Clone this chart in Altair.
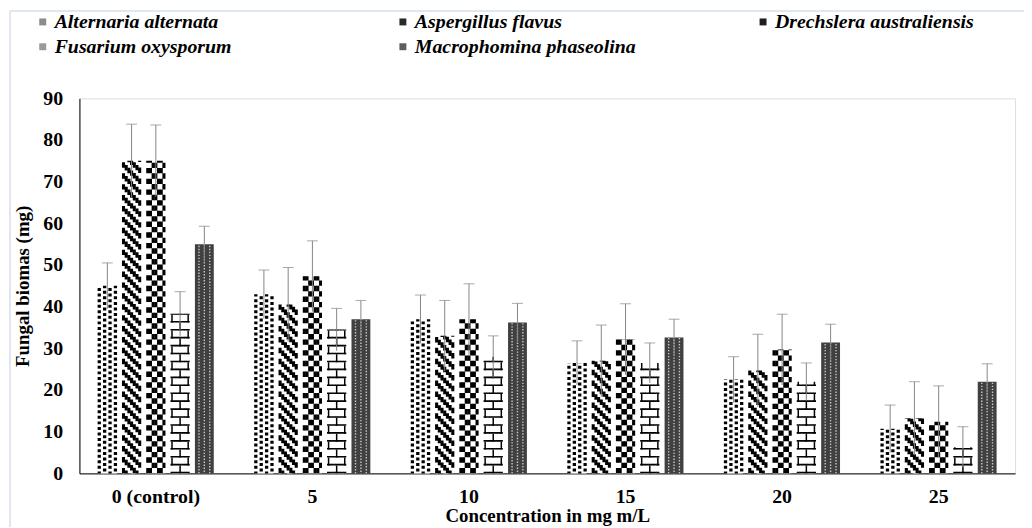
import altair as alt
import pandas as pd

concentrations = ["0 (control)", "5", "10", "15", "20", "25"]
species = ["Alternaria alternata", "Aspergillus flavus", "Drechslera australiensis",
           "Fusarium oxysporum", "Macrophomina phaseolina"]

alternaria = [45.0, 43.0, 37.0, 26.5, 22.5, 10.7]
alternaria_err = [5.5, 5.8, 5.8, 5.3, 5.5, 5.7]
aspergillus = [75.0, 40.5, 33.0, 27.0, 24.7, 13.2]
aspergillus_err = [8.8, 8.9, 8.5, 8.6, 8.7, 8.8]
drechslera = [75.0, 47.3, 37.0, 32.2, 29.7, 12.4]
drechslera_err = [8.6, 8.5, 8.5, 8.5, 8.5, 8.6]
fusarium = [38.3, 34.5, 28.0, 26.5, 22.0, 6.3]
fusarium_err = [5.3, 5.1, 5.0, 4.8, 4.5, 4.9]
macrophomina = [55.0, 37.0, 36.2, 32.6, 31.4, 22.0]
macrophomina_err = [4.3, 4.5, 4.6, 4.4, 4.4, 4.3]

series = [alternaria, aspergillus, drechslera, fusarium, macrophomina]
errors = [alternaria_err, aspergillus_err, drechslera_err, fusarium_err, macrophomina_err]
rows = []
for i, (sp, vals, errs) in enumerate(zip(species, series, errors)):
    for c, v, e in zip(concentrations, vals, errs):
        rows.append({"conc": c, "species": sp, "sidx": i, "value": v,
                     "lo": v - e, "hi": v + e})
df = pd.DataFrame(rows)

FONT = "Liberation Serif"
COLS = 7            # sub-columns per bar
SLOTS = 5 * COLS + 4 * 2   # bars + gaps of 2 sub-columns
PX = 378 / 90.0     # pixels per unit on y
C = 2.7156          # pixel width of one sub-column
BARW = COLS * C
YT = "Fungal biomas (mg)"
XT = "Concentration in mg m/L"

xenc = alt.X("conc:N", sort=concentrations, title=XT,
             scale=alt.Scale(paddingInner=0.26, paddingOuter=0.118))
offenc = alt.XOffset("slot:O", scale=alt.Scale(domain=list(range(SLOTS)),
                                              paddingInner=0, paddingOuter=0))
yscale = alt.Scale(domain=[0, 90], nice=False)

def center_layer():
    return alt.Chart(df).transform_calculate(slot=f"datum.sidx*{COLS + 2}+{COLS // 2}")

# solid background of each bar
bg = center_layer().mark_rule(strokeWidth=BARW, strokeCap="butt").encode(
    x=xenc, xOffset=offenc,
    y=alt.Y("zero:Q", scale=yscale, title=YT), y2="value:Q",
    stroke=alt.Stroke("species:N", scale=alt.Scale(domain=species,
                      range=["#ffffff", "#ffffff", "#ffffff", "#ffffff", "#404040"]),
                      legend=None),
).transform_calculate(zero="0")

def pattern(sp, dash, width, color, col_filter, shift_expr):
    return (alt.Chart(df)
            .transform_filter(alt.datum.species == sp)
            .transform_calculate(cols=f"sequence(0,{COLS})")
            .transform_flatten(["cols"])
            .transform_filter(col_filter)
            .transform_calculate(slot=f"datum.sidx*{COLS + 2}+datum.cols",
                                 start=f"-({shift_expr})/{PX}")
            .mark_rule(strokeDash=dash, strokeWidth=width, color=color,
                       strokeCap="butt", clip=True)
            .encode(x=xenc, xOffset=offenc,
                    y=alt.Y("start:Q", scale=yscale, title=YT), y2="value:Q"))

p_alt = pattern(species[0], [3.0, 2.6], 3.3, "#000000",
                "datum.cols % 2 == 0", "((datum.cols/2) % 2) * 2.8 + 1")
p_asp = pattern(species[1], [5.5, 5.5], C + 0.4, "#000000",
                "true", f"datum.cols * {C}")
p_dre = pattern(species[2], [5.4, 5.4], C + 0.4, "#000000",
                "true", "(floor(datum.cols/2) % 2) * 5.4")
p_fus_h = pattern(species[3], [1.6, 6.4], C + 0.4, "#000000",
                  "true", "0")
p_fus_v = pattern(species[3], [8, 8], 1.5, "#000000",
                  "datum.cols == 0 || datum.cols == 3 || datum.cols == 6",
                  "datum.cols == 3 ? 0 : 8")
p_mac = pattern(species[4], [1.4, 1.6], 1.4, "#c8c8c8",
                "datum.cols % 2 == 1", "((datum.cols - 1)/2 % 2) * 1.5")

err = center_layer().mark_rule(color="#858585", strokeWidth=1).encode(
    x=xenc, xOffset=offenc, y=alt.Y("lo:Q", scale=yscale, title=YT), y2="hi:Q")
cap = center_layer().mark_tick(color="#858585", thickness=1, size=11).encode(
    x=xenc, xOffset=offenc, y=alt.Y("hi:Q", scale=yscale, title=YT))

legend_order = [species[0], species[3], species[1], species[4], species[2]]
legend_fills = ["#8c8c8c", "#9a9a9a", "#2a2a2a", "#5e5e5e", "#1e1e1e"]
legend_layer = center_layer().mark_bar(opacity=0).encode(
    x=xenc, xOffset=offenc, y=alt.Y("value:Q", scale=yscale, title=YT),
    fill=alt.Fill("species:N", scale=alt.Scale(domain=legend_order, range=legend_fills),
                  legend=alt.Legend(title=None, orient="none", legendX=-47, legendY=-87,
                                    columns=3, gridAlign="all", columnPadding=118,
                                    rowPadding=5, symbolType="square", symbolSize=49,
                                    symbolStrokeWidth=0, symbolOpacity=1,
                                    labelFont=FONT, labelFontSize=20,
                                    labelFontWeight="bold", labelFontStyle="italic",
                                    labelColor="#000000", labelLimit=400,
                                    symbolOffset=0, labelOffset=2)),
)

frame = alt.Chart(df).mark_rule(color="#dfe7f1", strokeWidth=1.5).encode(
    x=alt.value(-70), y=alt.value(-88), y2=alt.value(440))
frame_top = alt.Chart(df).mark_rule(color="#dfe7f1", strokeWidth=1.5).encode(
    x=alt.value(-70), x2=alt.value(960), y=alt.value(-88))

chart = alt.layer(bg, p_alt, p_asp, p_dre, p_fus_h, p_fus_v, p_mac, err, cap,
                  legend_layer, frame, frame_top).properties(
    width=943, height=378,
    autosize=alt.AutoSizeParams(type="none"),
    padding={"left": 72, "top": 89, "right": 9, "bottom": 52},
).configure_view(stroke=None).configure(background="#ffffff").configure_axisX(
    labelAngle=0, ticks=False, labelPadding=13, titlePadding=0,
    domainColor="#000000", labelFont=FONT, labelFontSize=20, labelFontWeight="bold",
    labelColor="#000000", titleFont=FONT, titleFontSize=19, titleFontWeight="bold",
    titleColor="#000000",
).configure_axisY(
    values=list(range(0, 91, 10)), grid=False, ticks=False, labelPadding=17,
    titlePadding=10, domainColor="#000000", labelFont=FONT, labelFontSize=20,
    labelFontWeight="bold", labelColor="#000000", titleFont=FONT, titleFontSize=19,
    titleFontWeight="bold", titleColor="#000000",
)

chart.save("out.html", embed_options={"renderer": "svg", "actions": False})
